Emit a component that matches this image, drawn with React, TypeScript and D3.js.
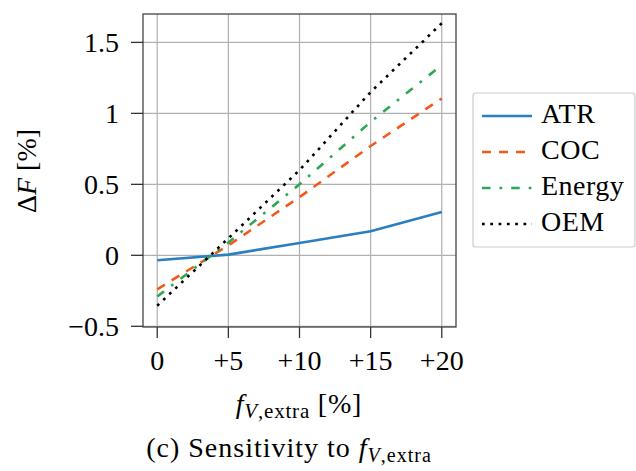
import React from 'react';
import * as d3 from 'd3';

const xValues = [0, 5, 10, 15, 20];
const xTickLabels = ['0', '+5', '+10', '+15', '+20'];
const yTicks = [-0.5, 0, 0.5, 1, 1.5];
const yTickLabels = ['\u22120.5', '0', '0.5', '1', '1.5'];

const seriesNames = ['ATR', 'COC', 'Energy', 'OEM'];
const atr = [-0.035, 0.005, 0.087, 0.169, 0.305];
const coc = [-0.24, 0.07, 0.41, 0.77, 1.105];
const energy = [-0.29, 0.09, 0.5, 0.94, 1.34];
const oem = [-0.355, 0.12, 0.6, 1.15, 1.635];

const colors = ['#2a7fc1', '#f25a19', '#2ea655', '#000000'];
const dashes = ['', '9,8', '8.5,9,2.7,9', '2.7,5.6'];

const font = 'Liberation Serif';
const fs = 28;
const left = 143, right = 456, top = 14, bottom = 327;

export default function App() {
  const x = d3.scaleLinear().domain([-1, 21]).range([left, right]);
  const y = d3.scaleLinear().domain([-0.505, 1.7]).range([bottom, top]);
  const line = d3.line<number>().x((d, i) => x(xValues[i])).y(d => y(d));
  const data = [atr, coc, energy, oem];

  return (
    <svg width={636} height={471} fontFamily={font}
      style={{ display: 'block', position: 'absolute', left: 0, top: 0 }}>
      {/* grid */}
      {xValues.map(v => (
        <line key={'gx' + v} x1={x(v)} x2={x(v)} y1={top} y2={bottom} stroke="#b0b0b0" strokeWidth={1.2} />
      ))}
      {yTicks.map(v => (
        <line key={'gy' + v} x1={left} x2={right} y1={y(v)} y2={y(v)} stroke="#b0b0b0" strokeWidth={1.2} />
      ))}

      {/* series */}
      {data.map((s, k) => (
        <path key={seriesNames[k]} d={line(s) || ''} fill="none" stroke={colors[k]}
          strokeWidth={2.6} strokeDasharray={dashes[k] || undefined} />
      ))}

      <rect x={left} y={top} width={right - left} height={bottom - top} fill="none" stroke="#444" strokeWidth={1.3} />

      {/* x axis */}
      {xValues.map((v, i) => (
        <g key={'xt' + v}>
          <line x1={x(v)} x2={x(v)} y1={bottom} y2={bottom + 11} stroke="#333" strokeWidth={1.3} />
          <text x={x(v)} y={370} textAnchor="middle" fontSize={fs}>{xTickLabels[i]}</text>
        </g>
      ))}

      {/* y axis */}
      {yTicks.map((v, i) => (
        <g key={'yt' + v}>
          <line x1={left - 12} x2={left} y1={y(v)} y2={y(v)} stroke="#333" strokeWidth={1.3} />
          <text x={left - 24} y={y(v) + 9.5} textAnchor="end" fontSize={fs}>{yTickLabels[i]}</text>
        </g>
      ))}

      {/* axis labels */}
      <text x={299} y={413} textAnchor="middle" fontSize={fs} letterSpacing={0.8}>
        <tspan fontStyle="italic">f</tspan>
        <tspan fontStyle="italic" fontSize={21} dy={5}>V</tspan>
        <tspan fontSize={21}>,extra</tspan>
        <tspan dy={-5}> [%]</tspan>
      </text>
      <text transform="translate(36,171) rotate(-90)" textAnchor="middle" fontSize={fs}>
        <tspan>{'\u0394'}</tspan>
        <tspan fontStyle="italic">F</tspan>
        <tspan> [%]</tspan>
      </text>

      {/* caption */}
      <text x={289} y={457} textAnchor="middle" fontSize={fs} letterSpacing={1}>
        <tspan>(c) Sensitivity to </tspan>
        <tspan fontStyle="italic">f</tspan>
        <tspan fontStyle="italic" fontSize={20} dy={5}>V</tspan>
        <tspan fontSize={20}>,extra</tspan>
      </text>

      {/* legend */}
      <rect x={473} y={93} width={162} height={154} rx={3} fill="white" stroke="#cccccc" strokeWidth={1.2} />
      {seriesNames.map((name, k) => {
        const ly = 116 + k * 36;
        return (
          <g key={'lg' + name}>
            <line x1={482} x2={532} y1={ly} y2={ly} stroke={colors[k]} strokeWidth={2.6}
              strokeDasharray={dashes[k] || undefined} />
            <text x={541} y={ly + 7} fontSize={fs} letterSpacing={0.5}>{name}</text>
          </g>
        );
      })}
    </svg>
  );
}
